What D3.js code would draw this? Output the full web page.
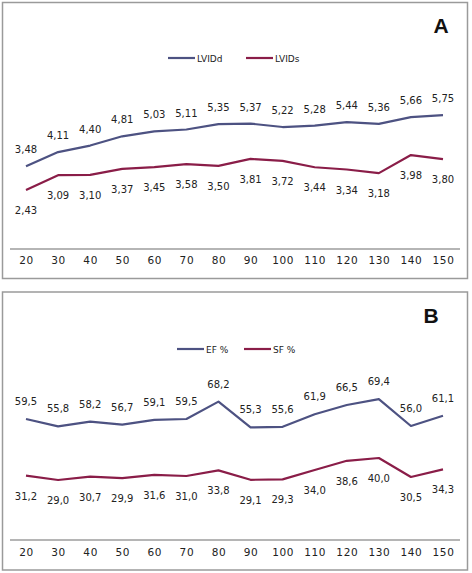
<!DOCTYPE html>
<html><head><meta charset="utf-8">
<script src="https://cdn.jsdelivr.net/npm/d3@7"></script>
<style>body{margin:0;background:#fff}svg{display:block}</style>
</head><body>
<svg id="c" width="472" height="573"></svg>
<script>
const categories = ["20","30","40","50","60","70","80","90","100","110","120","130","140","150"];
const lvidd = [3.48,4.11,4.40,4.81,5.03,5.11,5.35,5.37,5.22,5.28,5.44,5.36,5.66,5.75];
const lvids = [2.43,3.09,3.10,3.37,3.45,3.58,3.50,3.81,3.72,3.44,3.34,3.18,3.98,3.80];
const ef = [59.5,55.8,58.2,56.7,59.1,59.5,68.2,55.3,55.6,61.9,66.5,69.4,56.0,61.1];
const sf = [31.2,29.0,30.7,29.9,31.6,31.0,33.8,29.1,29.3,34.0,38.6,40.0,30.5,34.3];
const labelsLvidd = ["3,48","4,11","4,40","4,81","5,03","5,11","5,35","5,37","5,22","5,28","5,44","5,36","5,66","5,75"];
const labelsLvids = ["2,43","3,09","3,10","3,37","3,45","3,58","3,50","3,81","3,72","3,44","3,34","3,18","3,98","3,80"];
const labelsEf = ["59,5","55,8","58,2","56,7","59,1","59,5","68,2","55,3","55,6","61,9","66,5","69,4","56,0","61,1"];
const labelsSf = ["31,2","29,0","30,7","29,9","31,6","31,0","33,8","29,1","29,3","34,0","38,6","40,0","30,5","34,3"];

const svg = d3.select("#c");
const blue = "#4d5282", red = "#8a1d48";
const x = d3.scalePoint().domain(categories).range([26, 443]);

function panel(cfg){
  const g = svg.append("g");
  g.append("rect").attr("x",cfg.x0).attr("y",cfg.y0).attr("width",cfg.w).attr("height",cfg.h)
    .attr("fill","#fff").attr("stroke","#9a9a9a").attr("stroke-width",1.5);
  g.append("text").attr("x",cfg.letterX).attr("y",cfg.letterY).attr("text-anchor","middle")
    .attr("font-family","Liberation Sans, Arial, sans-serif").attr("font-weight","bold").attr("font-size",21)
    .attr("fill","#111").text(cfg.letter);
  const y = d3.scaleLinear().domain(cfg.domain).range(cfg.range);
  // axis
  const ax = g.append("g").attr("transform",`translate(0,${cfg.axisY})`)
    .call(d3.axisBottom(x).tickSize(0).tickPadding(cfg.tickPad));
  ax.select(".domain").attr("d","M10,0H460").attr("stroke","#9c9c9c").attr("stroke-width",1.3);
  ax.selectAll("text").attr("font-family","DejaVu Sans, Verdana, sans-serif").attr("font-size",10.5)
    .attr("letter-spacing",0.6).attr("fill","#222");
  const line = d3.line().x((d,i)=>x(categories[i])).y(d=>y(d));
  cfg.series.forEach(s=>{
    g.append("path").datum(s.values).attr("d",line).attr("fill","none")
      .attr("stroke",s.color).attr("stroke-width",2.2).attr("stroke-linejoin","round");
    g.selectAll(null).data(s.values).enter().append("text")
      .attr("x",(d,i)=>x(categories[i])).attr("y",d=>y(d)+s.dy)
      .attr("text-anchor","middle").attr("font-family","DejaVu Sans, Verdana, sans-serif")
      .attr("font-size",10).attr("fill","#222").text((d,i)=>s.labels[i]);
  });
  // legend
  cfg.legend.forEach(l=>{
    g.append("line").attr("x1",l.x).attr("x2",l.x+27).attr("y1",cfg.legendY).attr("y2",cfg.legendY)
      .attr("stroke",l.color).attr("stroke-width",2.2);
    g.append("text").attr("x",l.x+29).attr("y",cfg.legendY+3.5).attr("font-family","DejaVu Sans, Verdana, sans-serif")
      .attr("font-size",9).attr("fill","#222").text(l.name);
  });
}

panel({x0:2.5,y0:2.5,w:465,h:276,letter:"A",letterX:441,letterY:33,
  domain:[0,7],range:[245,86.8],axisY:249,tickPad:8,legendY:58,
  series:[{values:lvidd,labels:labelsLvidd,color:blue,dy:-13},
          {values:lvids,labels:labelsLvids,color:red,dy:24}],
  legend:[{x:168,name:"LVIDd",color:blue},{x:246,name:"LVIDs",color:red}]});

panel({x0:2.5,y0:292,w:465,h:278,letter:"B",letterX:431,letterY:323,
  domain:[0,80],range:[538,378],axisY:540,tickPad:9,legendY:349,
  series:[{values:ef,labels:labelsEf,color:blue,dy:-14},
          {values:sf,labels:labelsSf,color:red,dy:24}],
  legend:[{x:177,name:"EF %",color:blue},{x:244,name:"SF %",color:red}]});
</script>
</body></html>
